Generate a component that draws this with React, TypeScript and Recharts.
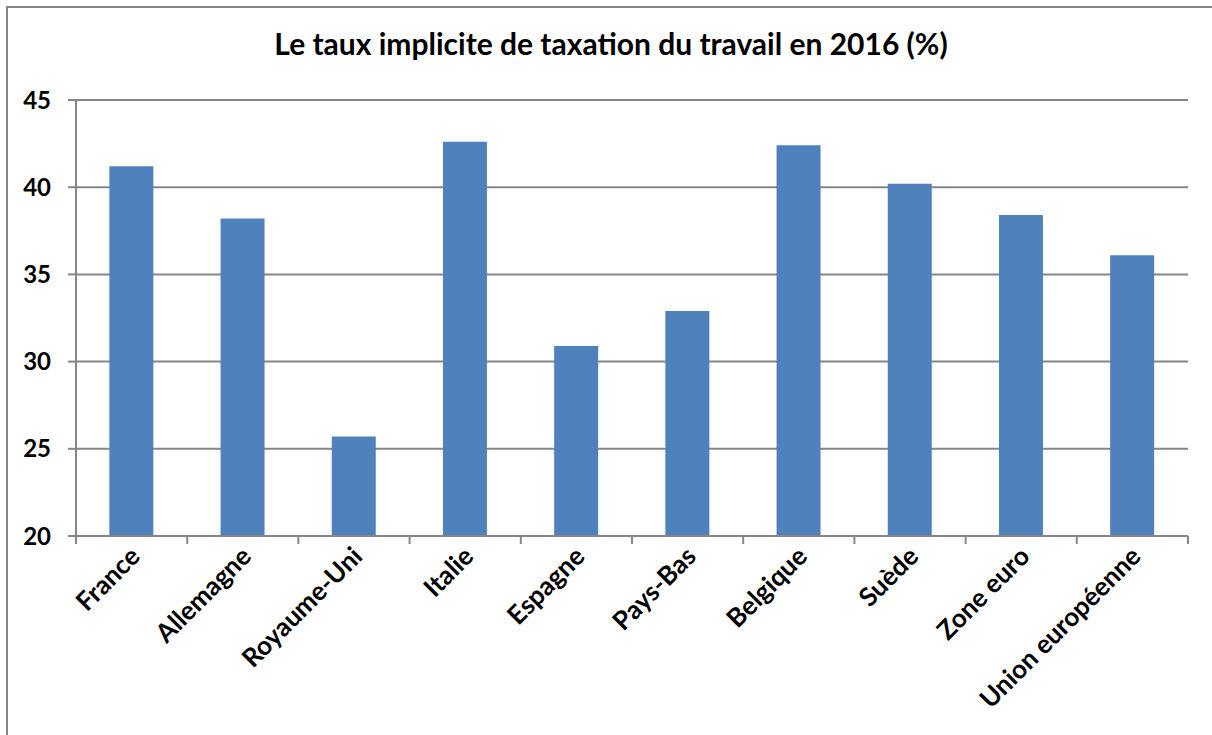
import { BarChart, Bar, XAxis, YAxis, CartesianGrid } from "recharts";

const categories = [
  "France",
  "Allemagne",
  "Royaume-Uni",
  "Italie",
  "Espagne",
  "Pays-Bas",
  "Belgique",
  "Suède",
  "Zone euro",
  "Union européenne",
];

const taux = [41.2, 38.2, 25.7, 42.6, 30.9, 32.9, 42.4, 40.2, 38.4, 36.1];

const yTicks = [20, 25, 30, 35, 40, 45];

const title = "Le taux implicite de taxation du travail en 2016 (%)";

const data = categories.map((name, i) => ({ name, taux: taux[i] }));

const FONT = "Lato, 'Open Sans', sans-serif";
const GREY = "#868686";
const BLUE = "#4F81BD";

const CHART_W = 1212;
const CHART_H = 735;
const X_AXIS_H = 199;
const MARGIN = { top: 100, right: 24, bottom: 0, left: 16 };
const Y_AXIS_W = 60;
const STEP = (CHART_W - MARGIN.left - MARGIN.right - Y_AXIS_W) / categories.length;

const CategoryTick = ({ x, y, payload, index }: any) => {
  const ax = x + 10;
  const ay = y + 22;
  return (
    <g>
      <line x1={x - STEP / 2} y1={y} x2={x - STEP / 2} y2={y + 8} stroke={GREY} strokeWidth={2} />
      {index === categories.length - 1 && (
        <line x1={x + STEP / 2} y1={y} x2={x + STEP / 2} y2={y + 8} stroke={GREY} strokeWidth={2} />
      )}
      <text
        x={ax}
        y={ay}
        textAnchor="end"
        transform={`rotate(-45, ${ax}, ${ay})`}
        fontFamily={FONT}
        fontWeight={700}
        fontSize={26}
        fill="#000"
      >
        {payload.value}
      </text>
    </g>
  );
};

export default function App() {
  return (
    <div style={{ position: "fixed", left: 0, top: 0, width: CHART_W, height: CHART_H, overflow: "hidden", background: "#fff" }}>
      <div style={{ position: "absolute", left: 0, top: 0 }}>
        <BarChart width={CHART_W} height={CHART_H} data={data} margin={MARGIN} barCategoryGap="30%">
          <CartesianGrid vertical={false} stroke={GREY} strokeWidth={2} />
          <XAxis
            dataKey="name"
            interval={0}
            axisLine={{ stroke: GREY, strokeWidth: 2 }}
            tickLine={false}
            tickSize={0}
            tickMargin={0}
            tick={<CategoryTick />}
            height={X_AXIS_H}
          />
          <YAxis
            width={Y_AXIS_W}
            domain={[20, 45]}
            ticks={yTicks}
            allowDataOverflow
            axisLine={{ stroke: GREY, strokeWidth: 2 }}
            tickLine={{ stroke: GREY, strokeWidth: 2 }}
            tickSize={8}
            tickMargin={17}
            tick={{ fontFamily: FONT, fontWeight: 700, fontSize: 24, fill: "#000" }}
          />
          <Bar dataKey="taux" fill={BLUE} isAnimationActive={false} />
        </BarChart>
      </div>
      <div
        style={{
          position: "absolute",
          left: 0,
          top: 25,
          width: 1222,
          textAlign: "center",
          fontFamily: FONT,
          fontWeight: 700,
          fontSize: 30,
          color: "#000",
          pointerEvents: "none",
        }}
      >
        {title}
      </div>
      <div style={{ position: "absolute", left: 6, top: 6, width: CHART_W - 6, height: 2, background: GREY }} />
      <div style={{ position: "absolute", left: 6, top: 6, width: 2, height: CHART_H - 6, background: GREY }} />
    </div>
  );
}
